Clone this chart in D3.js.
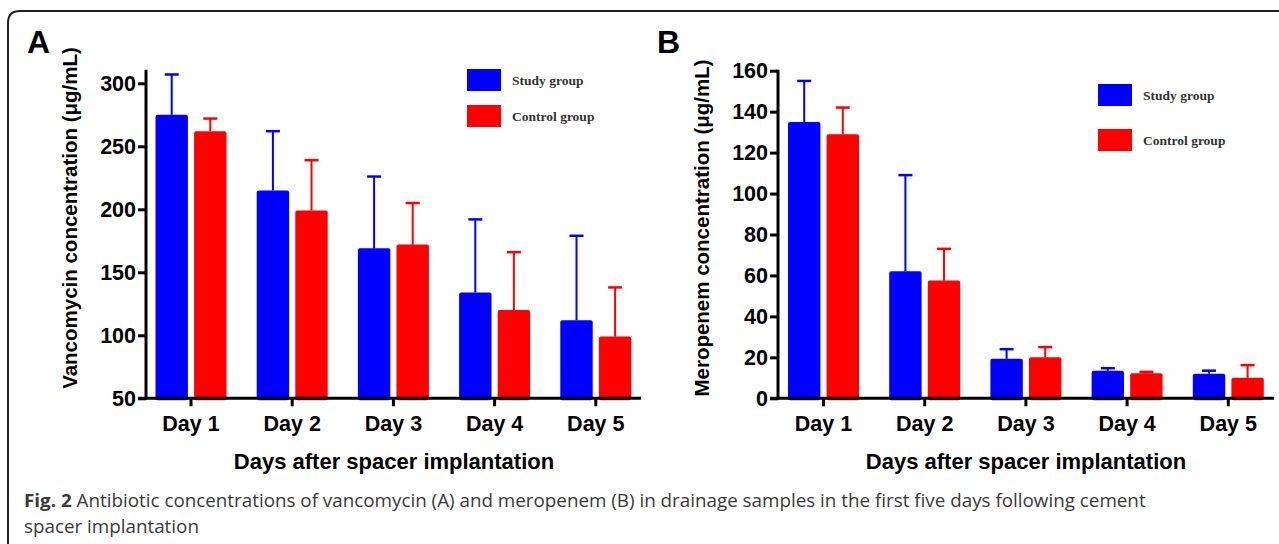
<!DOCTYPE html>
<html>
<head>
<meta charset="utf-8">
<script src="https://cdn.jsdelivr.net/npm/d3@7"></script>
<style>
  body { margin: 0; background: #fff; }
  svg { display: block; }
</style>
</head>
<body>
<svg id="chart" width="1279" height="544"></svg>
<script>
const days = ["Day 1", "Day 2", "Day 3", "Day 4", "Day 5"];
const groups = ["Study group", "Control group"];
const groupColors = ["#0000ff", "#ff0000"];

// panel A: vancomycin (mean, mean + SD)
const vancoStudy = [275, 215, 169, 134, 112];
const vancoStudyTop = [307, 262, 226, 192, 179];
const vancoControl = [262, 199, 172, 120, 99];
const vancoControlTop = [272, 239, 205, 166, 138];
const vancoTicks = [50, 100, 150, 200, 250, 300];

// panel B: meropenem
const meroStudy = [135, 62, 19.3, 13.4, 12];
const meroStudyTop = [155, 109, 24, 14.7, 13.5];
const meroControl = [129, 57.5, 20, 12.2, 10];
const meroControlTop = [142, 73, 25, 12.9, 16.2];
const meroTicks = [0, 20, 40, 60, 80, 100, 120, 140, 160];

const svg = d3.select("#chart");
const bold = "'Liberation Sans', Arial, Helvetica, sans-serif";
const serif = "'Liberation Serif', 'Times New Roman', serif";

// outer frame with rounded corner, running off the right and bottom
svg.append("path")
  .attr("d", "M1285,11 H20 Q8,11 8,23 V552")
  .attr("fill", "none").attr("stroke", "#222").attr("stroke-width", 2);

function panel(o) {
  const y0 = 398.3, yTop = 70.7;
  const x = d3.scaleBand().domain(days)
    .range([o.firstCenter - 50.6, o.firstCenter - 50.6 + 5 * 101.2]);
  const sub = d3.scaleBand().domain(groups).range([-35.5, 35.5]).paddingInner(0.16);
  const y = d3.scaleLinear().domain(o.domain).range([y0, yTop]);

  const g = svg.append("g");
  const rows = [];
  days.forEach((d, i) => {
    rows.push({ day: d, grp: 0, v: o.study[i], top: o.studyTop[i] });
    rows.push({ day: d, grp: 1, v: o.control[i], top: o.controlTop[i] });
  });
  const cx = r => x(r.day) + x.bandwidth() / 2 + sub(groups[r.grp]);

  g.selectAll("rect.bar").data(rows).join("rect")
    .attr("class", "bar")
    .attr("x", cx)
    .attr("y", r => y(r.v))
    .attr("width", sub.bandwidth())
    .attr("height", r => y0 - y(r.v) + 2)
    .attr("rx", 2)
    .attr("fill", r => groupColors[r.grp]);

  const mid = r => cx(r) + sub.bandwidth() / 2;
  g.selectAll("line.err").data(rows).join("line")
    .attr("x1", mid).attr("x2", mid)
    .attr("y1", r => y(r.v)).attr("y2", r => y(r.top))
    .attr("stroke", r => groupColors[r.grp]).attr("stroke-width", 2);
  g.selectAll("line.cap").data(rows).join("line")
    .attr("x1", r => mid(r) - 7).attr("x2", r => mid(r) + 7)
    .attr("y1", r => y(r.top)).attr("y2", r => y(r.top))
    .attr("stroke", r => groupColors[r.grp]).attr("stroke-width", 2.5);

  // y axis
  const ya = g.append("g")
    .attr("transform", `translate(${o.axisX},0)`)
    .call(d3.axisLeft(y).tickValues(o.ticks).tickSize(8).tickPadding(2).tickSizeOuter(0));
  ya.select(".domain").remove();
  ya.append("line").attr("x1", 0).attr("x2", 0).attr("y1", yTop - 1).attr("y2", y0 + 1.5)
    .attr("stroke", "#000").attr("stroke-width", 3);
  ya.selectAll(".tick line").attr("stroke-width", 3);
  ya.selectAll("text").attr("font-family", bold).attr("font-weight", "bold")
    .attr("font-size", 21.5).attr("fill", "#000");

  // x axis
  const xa = g.append("g")
    .attr("transform", `translate(0,${y0})`)
    .call(d3.axisBottom(x).tickSize(8).tickPadding(9).tickSizeOuter(0));
  xa.select(".domain").remove();
  xa.append("line").attr("x1", o.axisX - 8).attr("x2", o.axisEnd).attr("y1", 0).attr("y2", 0)
    .attr("stroke", "#000").attr("stroke-width", 3);
  xa.selectAll(".tick line").attr("stroke-width", 3);
  xa.selectAll("text").attr("font-family", bold).attr("font-weight", "bold")
    .attr("font-size", 21.5).attr("fill", "#000");

  // titles
  g.append("text")
    .attr("transform", `translate(${o.yTitleX},${o.yTitleY}) rotate(-90)`)
    .attr("text-anchor", "middle")
    .attr("font-family", bold).attr("font-weight", "bold").attr("font-size", 20.5)
    .text(o.yTitle);
  g.append("text")
    .attr("x", o.xTitleX).attr("y", 469)
    .attr("text-anchor", "middle")
    .attr("font-family", bold).attr("font-weight", "bold").attr("font-size", 22)
    .text("Days after spacer implantation");
  g.append("text")
    .attr("x", o.letterX).attr("y", 53)
    .attr("font-family", bold).attr("font-weight", "bold").attr("font-size", 32)
    .text(o.letter);

  // legend
  const lg = g.append("g");
  groups.forEach((name, i) => {
    lg.append("rect")
      .attr("x", o.legX).attr("y", o.legY[i])
      .attr("width", 34).attr("height", 22)
      .attr("fill", groupColors[i]);
    lg.append("text")
      .attr("x", o.legX + 45).attr("y", o.legY[i] + 16)
      .attr("font-family", serif).attr("font-weight", "bold").attr("font-size", 13.5)
      .attr("fill", "#333")
      .text(name);
  });
}

panel({
  letter: "A", letterX: 27,
  study: vancoStudy, studyTop: vancoStudyTop,
  control: vancoControl, controlTop: vancoControlTop,
  domain: [50, 310], ticks: vancoTicks,
  axisX: 146, axisEnd: 641, firstCenter: 191,
  yTitle: "Vancomycin concentration (\u03bcg/mL)", yTitleX: 77, yTitleY: 218,
  xTitleX: 394,
  legX: 467, legY: [69, 105]
});

panel({
  letter: "B", letterX: 657,
  study: meroStudy, studyTop: meroStudyTop,
  control: meroControl, controlTop: meroControlTop,
  domain: [0, 160], ticks: meroTicks,
  axisX: 778, axisEnd: 1274, firstCenter: 823.5,
  yTitle: "Meropenem concentration (\u03bcg/mL)", yTitleX: 709, yTitleY: 228,
  xTitleX: 1026,
  legX: 1098, legY: [84, 129]
});

// caption, slightly widened to match the figure's proportions
const cap = svg.append("text")
  .attr("transform", "translate(24,0) scale(1.076,1)")
  .attr("font-family", "'Open Sans', 'Noto Sans', sans-serif")
  .attr("font-size", 17.5).attr("fill", "#3a3a3a");
const l1 = cap.append("tspan").attr("x", 0).attr("y", 507);
l1.append("tspan").attr("font-weight", "bold").text("Fig. 2");
l1.append("tspan").text(" Antibiotic concentrations of vancomycin (A) and meropenem (B) in drainage samples in the first five days following cement");
cap.append("tspan").attr("x", 0).attr("y", 533).text("spacer implantation");
</script>
</body>
</html>
